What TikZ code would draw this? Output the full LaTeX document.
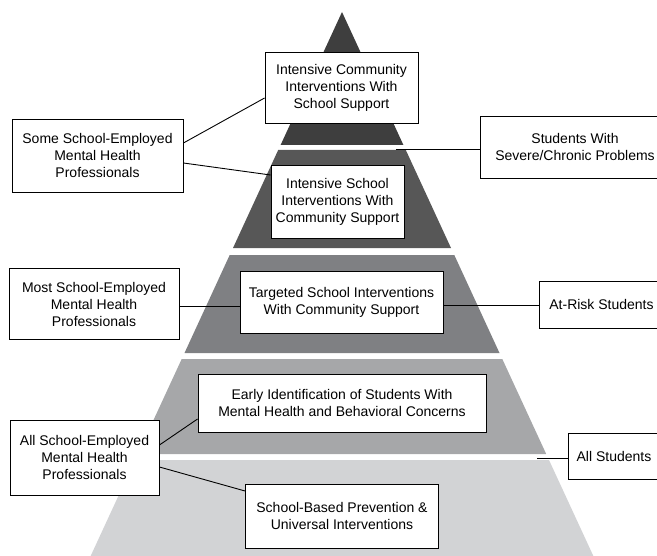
\documentclass[tikz,border=0pt]{standalone}
\usepackage{fontspec}
\setmainfont{Liberation Sans}
\definecolor{lay1}{HTML}{3E3E3E}
\definecolor{lay2}{HTML}{575757}
\definecolor{lay3}{HTML}{7F8083}
\definecolor{lay4}{HTML}{A6A7A9}
\definecolor{lay5}{HTML}{D2D3D5}
\begin{document}
\begin{tikzpicture}[x=1bp,y=-1bp,
  box/.style={draw=black, fill=white, line width=0.9pt, align=center, inner sep=0pt,
    font=\fontsize{14bp}{17bp}\selectfont},
  conn/.style={draw=black, line width=0.9pt}]
\useasboundingbox (0,0) rectangle (657,556);
\clip (0,0) rectangle (657,556);
% pyramid layers
\fill[lay1] (342,12) -- (403.4,145) -- (280.6,145) -- cycle;
\fill[lay2] (278.2,150) -- (405.8,150) -- (451.0,248) -- (233.0,248) -- cycle;
\fill[lay3] (229.7,255) -- (454.3,255) -- (499.5,353) -- (184.5,353) -- cycle;
\fill[lay4] (181.7,359) -- (502.3,359) -- (546.2,454) -- (137.8,454) -- cycle;
\fill[lay5] (135.0,460) -- (549.0,460) -- (595.2,560) -- (88.8,560) -- cycle;
% boxes
\node[box, minimum width=153bp, minimum height=71bp] (comm) at (341.5,87.5)
  {Intensive Community\\Interventions With\\School Support};
\node[box, minimum width=171bp, minimum height=73bp] (some) at (97.5,155.5)
  {Some School-Employed\\Mental Health\\Professionals};
\node[box, minimum width=190bp, minimum height=62bp] (severe) at (575,147)
  {Students With\\Severe/Chronic Problems};
\node[box, minimum width=133bp, minimum height=73bp] (school) at (337.5,201.5)
  {Intensive School\\Interventions With\\Community Support};
\node[box, minimum width=170bp, minimum height=71bp] (most) at (94,304)
  {Most School-Employed\\Mental Health\\Professionals};
\node[box, minimum width=203bp, minimum height=62bp] (targeted) at (341.5,302)
  {Targeted School Interventions\\With Community Support};
\node[box, minimum width=125bp, minimum height=47bp] (atrisk) at (601.5,304.5)
  {At-Risk Students};
\node[box, minimum width=288bp, minimum height=58bp] (early) at (342,403)
  {Early Identification of Students With\\Mental Health and Behavioral Concerns};
\node[box, minimum width=149bp, minimum height=75bp] (all) at (84.5,457.5)
  {All School-Employed\\Mental Health\\Professionals};
\node[box, minimum width=92bp, minimum height=46bp] (allst) at (614,456)
  {All Students};
\node[box, minimum width=193bp, minimum height=64bp] (prev) at (342,516)
  {School-Based Prevention \&\\Universal Interventions};
% connector ends
\coordinate (sev0) at (396,149);
\coordinate (all0) at (537,458);
% connectors
\draw[conn] ([yshift=12.5bp]some.east) -- ([yshift=-10.5bp]comm.west);
\draw[conn] ([yshift=-7.5bp]some.east) -- ([yshift=26.5bp]school.west);
\draw[conn] (sev0) -- (sev0 -| severe.west);
\draw[conn] ([yshift=-2bp]most.east) -- ([yshift=-2bp]most.east -| targeted.west);
\draw[conn] ([yshift=-3bp]targeted.east) -- ([yshift=-3bp]targeted.east -| atrisk.west);
\draw[conn] ([yshift=12.5bp]all.east) -- ([yshift=-16bp]early.west);
\draw[conn] ([yshift=-9.5bp]all.east) -- ([yshift=25bp]prev.west);
\draw[conn] (all0) -- (all0 -| allst.west);
\end{tikzpicture}
\end{document}
